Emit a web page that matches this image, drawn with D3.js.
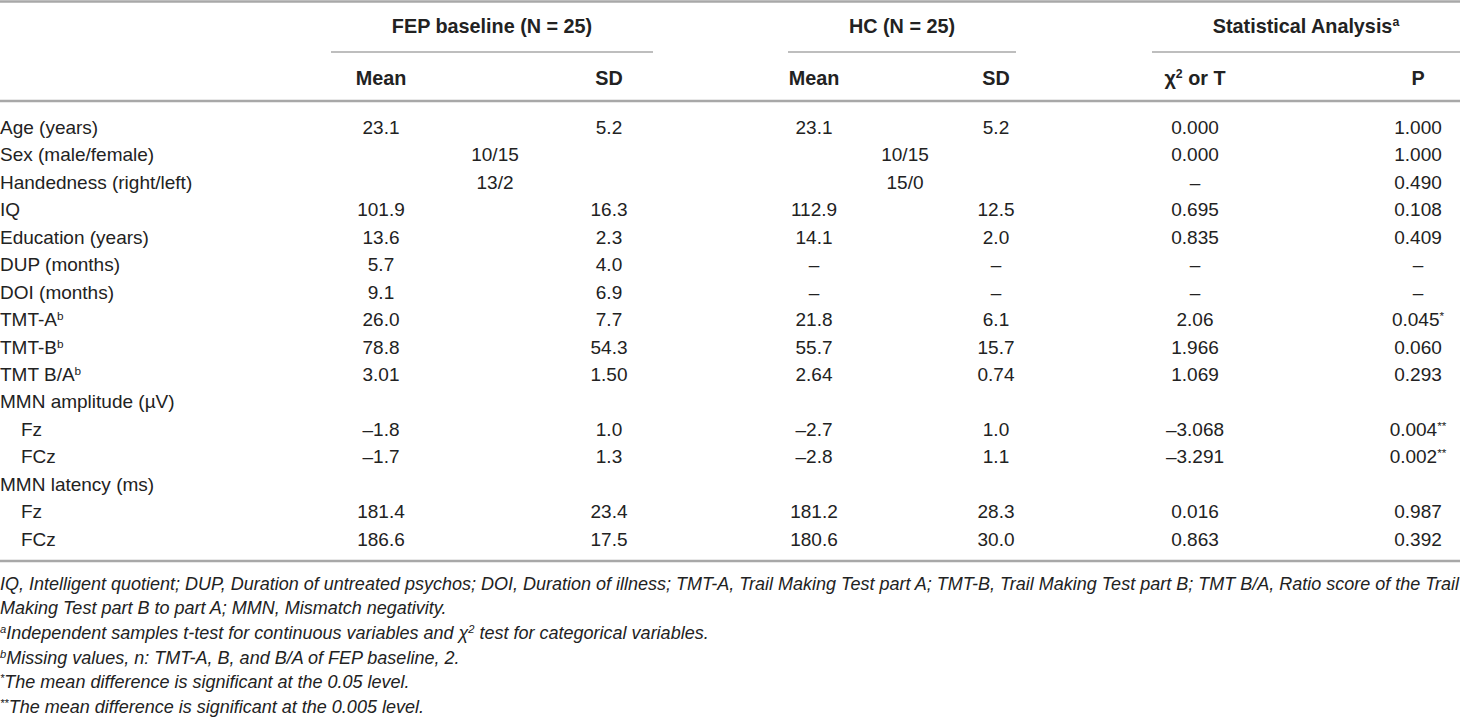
<!DOCTYPE html>
<html>
<head>
<meta charset="utf-8">
<script src="https://cdn.jsdelivr.net/npm/d3@7"></script>
<style>
  body { margin: 0; background: #fff; }
  svg { display: block; }
  text { font-family: "Liberation Sans", Arial, sans-serif; fill: #222; }
</style>
</head>
<body>
<script>
// table content, ^{x} marks a superscript
const rowLabels = ["Age (years)", "Sex (male/female)", "Handedness (right/left)", "IQ",
  "Education (years)", "DUP (months)", "DOI (months)", "TMT-A^{b}", "TMT-B^{b}", "TMT B/A^{b}",
  "MMN amplitude (µV)", "Fz", "FCz", "MMN latency (ms)", "Fz", "FCz"];
const rowIndent = [0, 0, 0, 0, 0, 0, 0, 0, 0, 0, 0, 1, 1, 0, 1, 1];

const fepMean = ["23.1", "", "", "101.9", "13.6", "5.7", "9.1", "26.0", "78.8", "3.01", "", "–1.8", "–1.7", "", "181.4", "186.6"];
const fepSD   = ["5.2", "", "", "16.3", "2.3", "4.0", "6.9", "7.7", "54.3", "1.50", "", "1.0", "1.3", "", "23.4", "17.5"];
const fepBoth = ["", "10/15", "13/2", "", "", "", "", "", "", "", "", "", "", "", "", ""];
const hcMean  = ["23.1", "", "", "112.9", "14.1", "–", "–", "21.8", "55.7", "2.64", "", "–2.7", "–2.8", "", "181.2", "180.6"];
const hcSD    = ["5.2", "", "", "12.5", "2.0", "–", "–", "6.1", "15.7", "0.74", "", "1.0", "1.1", "", "28.3", "30.0"];
const hcBoth  = ["", "10/15", "15/0", "", "", "", "", "", "", "", "", "", "", "", "", ""];
const statVal = ["0.000", "0.000", "–", "0.695", "0.835", "–", "–", "2.06", "1.966", "1.069", "", "–3.068", "–3.291", "", "0.016", "0.863"];
const pVal    = ["1.000", "1.000", "0.490", "0.108", "0.409", "–", "–", "0.045^{*}", "0.060", "0.293", "", "0.004^{**}", "0.002^{**}", "", "0.987", "0.392"];

const groups = ["FEP baseline (N = 25)", "HC (N = 25)", "Statistical Analysis^{a}"];
const subHeads = ["Mean", "SD", "Mean", "SD", "χ^{2} or T", "P"];
const columns = ["fepMean", "fepSD", "hcMean", "hcSD", "stat", "p"];

const footnotes = [
  "IQ, Intelligent quotient; DUP, Duration of untreated psychos; DOI, Duration of illness; TMT-A, Trail Making Test part A; TMT-B, Trail Making Test part B; TMT B/A, Ratio score of the Trail",
  "Making Test part B to part A; MMN, Mismatch negativity.",
  "^{a}Independent samples t-test for continuous variables and χ^{2} test for categorical variables.",
  "^{b}Missing values, n: TMT-A, B, and B/A of FEP baseline, 2.",
  "^{*}The mean difference is significant at the 0.05 level.",
  "^{**}The mean difference is significant at the 0.005 level."
];

const width = 1460, height = 723;
const lineColor = "#a8a8a8";
const bodySize = "19px", headSize = "19.8px";

const svg = d3.select("body").append("svg")
    .attr("width", width)
    .attr("height", height);

// scales
const x = d3.scaleOrdinal().domain(columns).range([381, 609, 814, 996, 1195, 1418]);
const groupX = d3.scaleOrdinal().domain(groups).range([[331, 653], [788, 1016], [1152, 1460]]);
const y = d3.scalePoint().domain(d3.range(rowLabels.length)).range([127, 539]);
const fy = d3.scalePoint().domain(d3.range(footnotes.length)).range([583, 706]);
const base = 6.8; // center -> baseline

// writes a string with ^{..} superscripts into a text node
function rich(sel, str) {
  const parts = str.split(/\^\{([^}]*)\}/);
  parts.forEach((p, i) => {
    if (!p) return;
    const t = sel.append("tspan").text(p);
    if (i % 2 === 1) t.attr("baseline-shift", "super").style("font-size", "0.62em");
  });
}

// rules
const rule = (y0, x0, x1, w) => svg.append("line")
    .attr("x1", x0).attr("x2", x1).attr("y1", y0).attr("y2", y0)
    .style("stroke", lineColor).style("stroke-width", w);
rule(1.5, 0, width, 2.5);
rule(101, 0, width, 2.5);
rule(561, 0, width, 2.5);
groups.forEach(g => rule(52, groupX(g)[0], groupX(g)[1], 1.6));

// group headers
svg.selectAll("text.group")
  .data(groups)
  .join("text")
    .attr("class", "group")
    .attr("x", d => (groupX(d)[0] + groupX(d)[1]) / 2)
    .attr("y", 26 + base)
    .attr("text-anchor", "middle")
    .style("font-weight", "bold")
    .style("font-size", headSize)
    .each(function(d) { rich(d3.select(this), d); });

// sub headers
svg.selectAll("text.sub")
  .data(subHeads)
  .join("text")
    .attr("class", "sub")
    .attr("x", (d, i) => x(columns[i]))
    .attr("y", 78 + base)
    .attr("text-anchor", "middle")
    .style("font-weight", "bold")
    .style("font-size", headSize)
    .each(function(d) { rich(d3.select(this), d); });

// row labels
svg.selectAll("text.label")
  .data(rowLabels)
  .join("text")
    .attr("class", "label")
    .attr("x", (d, i) => rowIndent[i] ? 21 : 0)
    .attr("y", (d, i) => y(i) + base)
    .style("font-size", bodySize)
    .each(function(d) { rich(d3.select(this), d); });

// body cells
const cellCols = { fepMean, fepSD, hcMean, hcSD, stat: statVal, p: pVal };
columns.forEach(c => {
  svg.append("g").selectAll("text")
    .data(cellCols[c])
    .join("text")
      .attr("x", x(c))
      .attr("y", (d, i) => y(i) + base)
      .attr("text-anchor", "middle")
      .style("font-size", bodySize)
      .each(function(d) { rich(d3.select(this), d); });
});

// merged cells (Mean + SD)
[[fepBoth, "fepMean", "fepSD"], [hcBoth, "hcMean", "hcSD"]].forEach(([vals, a, b]) => {
  svg.append("g").selectAll("text")
    .data(vals)
    .join("text")
      .attr("x", (x(a) + x(b)) / 2)
      .attr("y", (d, i) => y(i) + base)
      .attr("text-anchor", "middle")
      .style("font-size", bodySize)
      .text(d => d);
});

// footnotes
svg.selectAll("text.note")
  .data(footnotes)
  .join("text")
    .attr("class", "note")
    .attr("x", 0)
    .attr("y", (d, i) => fy(i) + base)
    .style("font-style", "italic")
    .style("font-size", "18px")
    .each(function(d) { rich(d3.select(this), d); });
</script>
</body>
</html>
